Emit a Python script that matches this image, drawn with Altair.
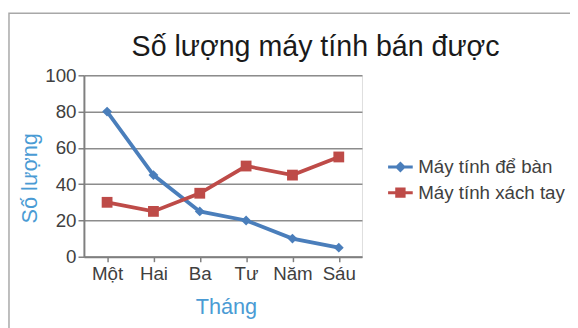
import altair as alt
import pandas as pd

months = ["Một", "Hai", "Ba", "Tư", "Năm", "Sáu"]
series_names = ["Máy tính để bàn", "Máy tính xách tay"]
desktop = [80, 45, 25, 20, 10, 5]
laptop = [30, 25, 35, 50, 45, 55]
colors = ["#4a7ebb", "#be4b48"]
y_ticks = [0, 20, 40, 60, 80, 100]

rows = []
for m, v in zip(months, desktop):
    rows.append({"Tháng": m, "Số lượng": v, "series": series_names[0]})
for m, v in zip(months, laptop):
    rows.append({"Tháng": m, "Số lượng": v, "series": series_names[1]})
df = pd.DataFrame(rows)

FONT = "Liberation Sans"
W, H = 282, 184

x_enc = alt.X("Tháng:N", sort=months,
              scale=alt.Scale(type="point", padding=0.5),
              axis=alt.Axis(title="Tháng", labelAngle=0, labelFontSize=19, labelColor="#404040",
                            labelFont=FONT, labelPadding=3, tickSize=5, tickColor="#7f7f7f",
                            tickWidth=1.5, domainColor="#7f7f7f", domainWidth=2, grid=False,
                            titleFont=FONT, titleFontSize=22, titleFontWeight="normal",
                            titleColor="#4a9bd4", titleX=144, titleY=51, titleBaseline="middle"))
y_enc = alt.Y("Số lượng:Q",
              scale=alt.Scale(domain=[0, 100]),
              axis=alt.Axis(title="Số lượng", values=y_ticks, labelFontSize=19, labelColor="#404040",
                            labelFont=FONT, labelPadding=2, tickSize=6, tickColor="#7f7f7f",
                            tickWidth=1.5, domainColor="#7f7f7f", domainWidth=2,
                            grid=True, gridColor="#8c8c8c", gridWidth=1.5,
                            titleFont=FONT, titleFontSize=22, titleFontWeight="normal",
                            titleColor="#4a9bd4", titleAngle=270, titleX=-55, titleY=104,
                            titleAlign="center", titleBaseline="middle"))

color_scale = alt.Scale(domain=series_names, range=colors)

frame = alt.Chart(pd.DataFrame({"a": [0]})).mark_rect(
    fill=None, stroke="#a8a8a8", strokeWidth=1.5
).encode(x=alt.value(-76), x2=alt.value(560), y=alt.value(-63), y2=alt.value(320))

legend_def = alt.Legend(orient="none", legendX=307, legendY=79, padding=0,
                        symbolSize=625, symbolStrokeWidth=3, symbolOpacity=1,
                        labelFont=FONT, labelFontSize=19, labelColor="#404040",
                        labelOffset=4, rowPadding=2)

lines = alt.Chart(df).mark_line(strokeWidth=3.8).encode(
    x=x_enc, y=y_enc,
    color=alt.Color("series:N", scale=color_scale, title=None, legend=legend_def),
    detail="series:N",
)

pts_desk = alt.Chart(df).transform_filter(
    alt.datum.series == series_names[0]
).mark_point(filled=True, shape="diamond", size=100, opacity=1).encode(
    x=x_enc, y=y_enc,
    color=alt.Color("series:N", scale=color_scale, legend=None),
)
pts_lap = alt.Chart(df).transform_filter(
    alt.datum.series == series_names[1]
).mark_point(filled=True, shape="square", size=120, opacity=1).encode(
    x=x_enc, y=y_enc,
    color=alt.Color("series:N", scale=color_scale, legend=None),
)

diamond_path = "M-1,0L1,0M0,-0.28L0.28,0L0,0.28L-0.28,0Z"
square_path = "M-1,0L1,0M-0.3,-0.3L0.3,-0.3L0.3,0.3L-0.3,0.3Z"

legend_layer = alt.Chart(df).mark_point(size=1, strokeWidth=3, filled=True, opacity=1).encode(
    x=x_enc, y=y_enc,
    shape=alt.Shape("series:N", scale=alt.Scale(domain=series_names, range=[diamond_path, square_path]),
                    title=None, legend=legend_def),
)

chart = alt.layer(frame, lines, pts_desk, pts_lap, legend_layer).properties(
    width=W, height=H,
    autosize=alt.AutoSizeParams(type="none"),
    padding={"left": 77, "top": 66, "right": 211, "bottom": 70},
    title=alt.Title("Số lượng máy tính bán được", font=FONT, fontSize=29, fontWeight="normal",
                    color="#1a1a1a", anchor="middle", dx=94, offset=6, dy=56),
).configure_view(stroke=None).configure(background="white")

chart.save("out.html", embed_options={"renderer": "svg", "actions": False})
